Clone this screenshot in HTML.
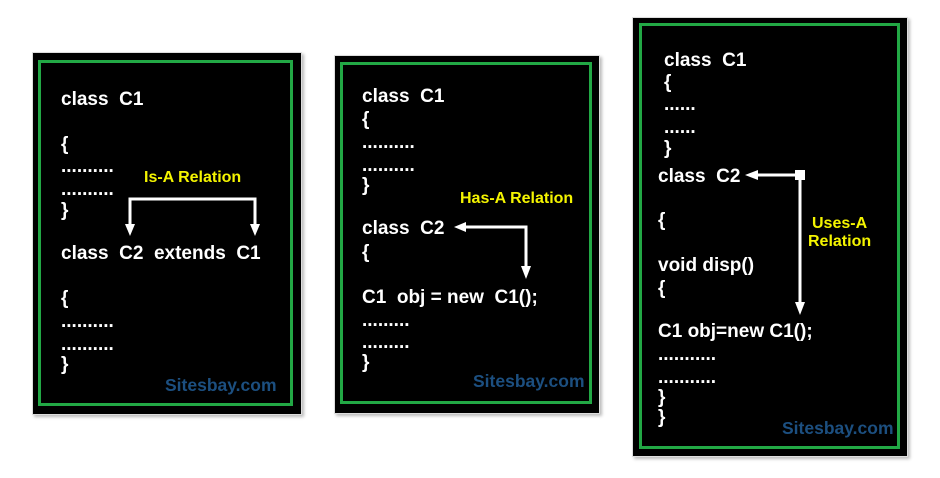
<!DOCTYPE html>
<html><head><meta charset="utf-8"><style>
body{margin:0;width:940px;height:478px;background:#fff;position:relative;overflow:hidden;font-family:"Liberation Sans",Arial,sans-serif;font-weight:bold}
.box{position:absolute;background:#000;box-shadow:2px 2px 3px #bbb;border:1px solid #ddd}
.g{position:absolute;border:3px solid #22a845}
.t{position:absolute;color:#fff;font-size:19px;line-height:20px;white-space:pre;margin-top:2px}
.y{position:absolute;color:#f4f400;font-size:16px;line-height:18px;white-space:pre;text-align:center;margin-top:1px}
.s{position:absolute;color:#1c4f80;font-size:17.5px;line-height:20px}
svg{position:absolute;left:0;top:0}
</style></head><body>
<div class="box" style="left:32px;top:52px;width:268px;height:361px"></div>
<div class="g" style="left:38px;top:60px;width:249px;height:340px"></div>
<div class="box" style="left:334px;top:55px;width:264px;height:357px"></div>
<div class="g" style="left:340px;top:62px;width:246px;height:336px"></div>
<div class="box" style="left:632px;top:17px;width:274px;height:438px"></div>
<div class="g" style="left:639px;top:23px;width:255px;height:420px"></div>

<div class="t" style="left:61px;top:88px">class  C1</div>
<div class="t" style="left:61px;top:133px">{</div>
<div class="t" style="left:61px;top:155px">..........</div>
<div class="t" style="left:61px;top:178px">..........</div>
<div class="t" style="left:61px;top:199px">}</div>
<div class="t" style="left:61px;top:242px">class  C2  extends  C1</div>
<div class="t" style="left:61px;top:287px">{</div>
<div class="t" style="left:61px;top:310px">..........</div>
<div class="t" style="left:61px;top:333px">..........</div>
<div class="t" style="left:61px;top:353px">}</div>
<div class="y" style="left:144px;top:168px">Is-A Relation</div>
<div class="s" style="left:165px;top:375px">Sitesbay.com</div>

<div class="t" style="left:362px;top:85px">class  C1</div>
<div class="t" style="left:362px;top:108px">{</div>
<div class="t" style="left:362px;top:131px">..........</div>
<div class="t" style="left:362px;top:154px">..........</div>
<div class="t" style="left:362px;top:174px">}</div>
<div class="t" style="left:362px;top:217px">class  C2</div>
<div class="t" style="left:362px;top:241px">{</div>
<div class="t" style="left:362px;top:286px">C1  obj = new  C1();</div>
<div class="t" style="left:362px;top:309px">.........</div>
<div class="t" style="left:362px;top:331px">.........</div>
<div class="t" style="left:362px;top:351px">}</div>
<div class="y" style="left:460px;top:189px">Has-A Relation</div>
<div class="s" style="left:473px;top:371px">Sitesbay.com</div>

<div class="t" style="left:664px;top:49px">class  C1</div>
<div class="t" style="left:664px;top:71px">{</div>
<div class="t" style="left:664px;top:93px">......</div>
<div class="t" style="left:664px;top:116px">......</div>
<div class="t" style="left:664px;top:137px">}</div>
<div class="t" style="left:658px;top:165px">class  C2</div>
<div class="t" style="left:658px;top:209px">{</div>
<div class="t" style="left:658px;top:254px">void disp()</div>
<div class="t" style="left:658px;top:277px">{</div>
<div class="t" style="left:658px;top:320px">C1 obj=new C1();</div>
<div class="t" style="left:658px;top:343px">...........</div>
<div class="t" style="left:658px;top:366px">...........</div>
<div class="t" style="left:658px;top:386px">}</div>
<div class="t" style="left:658px;top:406px">}</div>
<div class="y" style="left:808px;top:214px">Uses-A
Relation</div>
<div class="s" style="left:782px;top:418px">Sitesbay.com</div>

<svg width="940" height="478">
<g stroke="#fff" stroke-width="3" fill="none">
<polyline points="130,228 130,199 255,199 255,228"/>
<polyline points="464,227 526,227 526,270"/>
<polyline points="756,175 800,175 800,306"/>
</g>
<g fill="#fff">
<polygon points="125,224 135,224 130,236"/>
<polygon points="250,224 260,224 255,236"/>
<polygon points="454,227 466,222 466,232"/>
<polygon points="521,266 531,266 526,279"/>
<polygon points="745,175 758,170 758,180"/>
<rect x="795" y="170" width="10" height="10"/>
<polygon points="795,302 805,302 800,315"/>
</g>
</svg>
</body></html>
